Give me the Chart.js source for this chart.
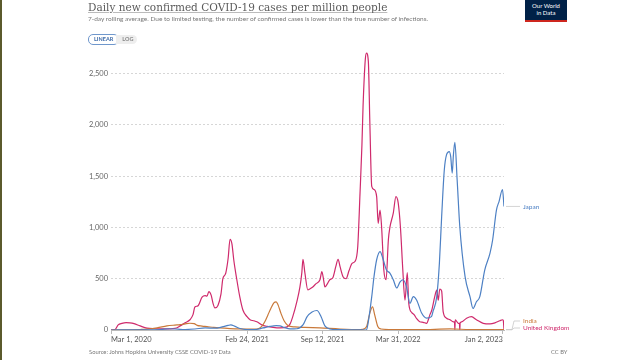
<!DOCTYPE html>
<html>
<head>
<meta charset="utf-8">
<script src="https://cdn.jsdelivr.net/npm/chart.js@4.4.0/dist/chart.umd.min.js"></script>
<style>
  html, body { margin: 0; padding: 0; background: #fff; }
  body { width: 640px; height: 360px; position: relative; overflow: hidden; font-family: Lato, sans-serif; }
  #edge { position: absolute; left: 0; top: 0; width: 2px; height: 360px; background: #5b5a2c; }
  #chart { position: absolute; left: 0; top: 0; }
  #title { position: absolute; left: 88px; top: 1px; font-family: "DejaVu Serif", serif; font-size: 10.5px; color: #5b5b5b;
           white-space: nowrap; text-decoration: underline; text-decoration-color: #bbb; }
  #subtitle { position: absolute; left: 88px; top: 15px; font-size: 6.5px; color: #777; white-space: nowrap; }
  #toggle { position: absolute; left: 88px; top: 34px; display: flex; font-size: 5.5px; font-weight: bold; }
  #toggle span { display: block; height: 9px; line-height: 9px; padding: 0 4px; }
  #toggle .on { border: 1px solid #6f97cc; border-radius: 5px; color: #3d6aa8; background: #fff; padding: 0 5px; }
  #toggle .off { background: #eee; color: #888; border-radius: 0 5px 5px 0; margin-left: -3px; padding-left: 6px; margin-top: 1px; }
  #logo { position: absolute; left: 525px; top: 0; width: 42px; height: 18px; background: #002147; border-bottom: 2px solid #ce261e;
          color: #fff; font-size: 6px; line-height: 7px; padding-top: 2px; box-sizing: content-box; text-align: center; }
  #source { position: absolute; left: 89px; top: 348px; font-size: 5.8px; color: #777; white-space: nowrap; }
  #cc { position: absolute; left: 551px; top: 348px; font-size: 5.8px; color: #777; }
</style>
</head>
<body>
<div id="edge"></div>
<canvas id="chart" width="640" height="360"></canvas>
<div id="title">Daily new confirmed COVID-19 cases per million people</div>
<div id="subtitle">7-day rolling average. Due to limited testing, the number of confirmed cases is lower than the true number of infections.</div>
<div id="toggle"><span class="on">LINEAR</span><span class="off">LOG</span></div>
<div id="logo">Our World<br>in Data</div>
<div id="source">Source: Johns Hopkins University CSSE COVID-19 Data</div>
<div id="cc">CC BY</div>
<script>
// x values are days since Mar 1, 2020
const xTickDays = [0, 360, 560, 760, 1037];
const xTickLabels = ['Mar 1, 2020', 'Feb 24, 2021', 'Sep 12, 2021', 'Mar 31, 2022', 'Jan 2, 2023'];
const yTicks = [0, 500, 1000, 1500, 2000, 2500];

const ukDays = [0, 11, 19, 29, 40, 50, 61, 77, 95, 116, 143, 169, 183, 196, 209, 217, 222, 230, 241, 249, 254, 259, 265, 270, 275,
  283, 291, 296, 302, 304, 310, 315, 320, 325, 333, 341, 349, 360, 368, 378, 386, 399, 413, 429, 447, 466, 474, 481, 492, 500,
  505, 508, 513, 521, 526, 534, 542, 553, 558, 563, 566, 574, 579, 587, 595, 601, 606, 614, 622, 630, 638, 646, 653, 659, 664,
  667, 673, 676, 681, 685, 690, 696, 703, 707, 712, 716, 722, 728, 734, 738, 747, 754, 760, 766, 772, 778, 784, 788, 796, 802,
  809, 817, 826, 835, 844, 849, 857, 862, 866, 870, 875, 879, 888, 897, 906, 909, 910, 911, 919, 922, 923, 924, 928, 941, 954,
  967, 985, 1003, 1016, 1029, 1036, 1038, 1040];
const ukCases = [0, 5, 50, 65, 72, 70, 62, 40, 18, 12, 10, 15, 40, 70, 100, 150, 225, 235, 320, 335, 330, 375, 340, 260, 215,
  240, 350, 500, 540, 560, 700, 885, 840, 680, 490, 320, 195, 130, 100, 90, 80, 50, 35, 25, 20, 30, 60, 130, 280, 420,
  560, 690, 560, 390, 400, 420, 450, 490, 570, 480, 420, 460, 490, 510, 620, 690, 620, 520, 500, 580, 650, 670, 815, 1335, 1800,
  2180, 2640, 2700, 2620, 2020, 1400, 1370, 1300, 1040, 1170, 1010, 585, 490, 880, 1000, 1140, 1300, 1240, 1000, 600, 290, 560, 260, 170, 150,
  110, 80, 75, 65, 150, 195, 330, 390, 290, 400, 380, 180, 115, 100, 80, 80, 0, 100, 65, 65, 0, 70, 80, 115, 130,
  100, 65, 60, 70, 90, 100, 95, 2];

const japanDays = [0, 77, 130, 156, 177, 196, 222, 249, 275, 294, 310, 317, 328, 341, 360, 381, 402, 421, 437, 447, 458, 474, 492,
  508, 519, 532, 545, 556, 566, 579, 606, 646, 676, 680, 690, 696, 703, 712, 720, 729, 738, 747, 756, 765, 773, 782, 791, 800,
  809, 822, 835, 848, 852, 862, 869, 875, 882, 888, 895, 899, 903, 906, 910, 916, 923, 937, 950, 958, 967, 976, 989, 1003,
  1010, 1020, 1027, 1036, 1040];
const japanCases = [0, 2, 5, 12, 8, 5, 10, 20, 18, 30, 45, 50, 35, 15, 5, 5, 20, 35, 42, 40, 25, 10, 12,
  50, 130, 175, 190, 130, 40, 10, 3, 2, 0, 60, 325, 520, 685, 765, 690, 585, 555, 490, 410, 470, 490, 420, 260, 325,
  290, 165, 115, 130, 180, 325, 650, 1105, 1560, 1710, 1740, 1690, 1530, 1700, 1830, 1465, 1010, 520, 325, 210, 275, 325, 585, 750,
  880, 1170, 1255, 1370, 1205];

const indiaDays = [0, 37, 77, 95, 122, 148, 169, 183, 196, 209, 220, 228, 241, 254, 272, 288, 315, 341, 368, 386, 399, 407, 415,
  423, 431, 437, 442, 450, 458, 468, 487, 513, 553, 606, 659, 672, 677, 685, 692, 698, 706, 714, 738, 817, 897, 950, 1040];
const indiaCases = [0, 2, 5, 8, 20, 40, 48, 52, 60, 66, 62, 45, 38, 33, 25, 20, 14, 10, 8, 10, 35, 80, 145,
  210, 265, 275, 245, 160, 90, 45, 30, 25, 20, 10, 5, 15, 40, 165, 225, 145, 35, 10, 5, 4, 10, 5, 4];

const seriesNames = ['Japan', 'India', 'United Kingdom'];
const seriesColors = ['#4d80c4', '#c9793a', '#cf2a6c'];

function toPoints(days, values) {
  return days.map((d, i) => ({ x: d, y: values[i] }));
}

// labels at the right end of each line
const endLabels = {
  id: 'endLabels',
  afterDatasetsDraw(chart) {
    const ctx = chart.ctx;
    const area = chart.chartArea;
    const items = chart.data.datasets.map((ds, i) => {
      const meta = chart.getDatasetMeta(i);
      const last = meta.data[meta.data.length - 1];
      return { name: ds.label, color: ds.borderColor, y: last.y, ly: last.y };
    });
    items.sort((a, b) => b.y - a.y);
    let prev = area.bottom - 2 + 7;
    items.forEach(it => {
      it.ly = Math.min(it.y, prev - 7);
      prev = it.ly;
    });
    ctx.save();
    ctx.font = '6.5px Lato';
    ctx.textBaseline = 'middle';
    items.forEach(it => {
      ctx.strokeStyle = '#c8c8c8';
      ctx.lineWidth = 0.8;
      ctx.beginPath();
      ctx.moveTo(area.right + 2, it.y);
      ctx.lineTo(area.right + 8, it.y);
      ctx.lineTo(area.right + 10, it.ly);
      ctx.lineTo(area.right + 16, it.ly);
      ctx.stroke();
      ctx.fillStyle = it.color;
      ctx.fillText(it.name, area.right + 19, it.ly);
    });
    ctx.restore();
  }
};

Chart.defaults.font.family = 'Lato';

new Chart(document.getElementById('chart').getContext('2d'), {
  type: 'line',
  data: {
    datasets: [
      { label: seriesNames[0], data: toPoints(japanDays, japanCases), borderColor: seriesColors[0] },
      { label: seriesNames[1], data: toPoints(indiaDays, indiaCases), borderColor: seriesColors[1] },
      { label: seriesNames[2], data: toPoints(ukDays, ukCases), borderColor: seriesColors[2] }
    ]
  },
  options: {
    responsive: false,
    animation: false,
    devicePixelRatio: 1,
    layout: { padding: { left: 81, right: 136, top: 48, bottom: 10 } },
    elements: {
      point: { radius: 0 },
      line: { borderWidth: 1.2, cubicInterpolationMode: 'monotone', fill: false }
    },
    plugins: {
      legend: { display: false },
      tooltip: { enabled: false }
    },
    scales: {
      x: {
        type: 'linear',
        min: 0,
        max: 1040,
        afterFit: s => { s.height = 20; },
        afterBuildTicks: s => { s.ticks = xTickDays.map(v => ({ value: v })); },
        border: { display: true, color: '#bbb' },
        grid: { drawOnChartArea: false, tickLength: 4, color: '#bbb' },
        ticks: {
          autoSkip: false,
          maxRotation: 0,
          align: 'inner',
          padding: 1,
          color: '#555',
          font: { size: 7.5 },
          callback: (v, i) => xTickLabels[i]
        }
      },
      y: {
        min: 0,
        max: 2750,
        afterFit: s => { s.width = 30; },
        afterBuildTicks: s => { s.ticks = yTicks.map(v => ({ value: v })); },
        border: { display: false, dash: [2, 2] },
        grid: {
          drawTicks: false,
          color: ctx => ctx.tick.value === 0 ? 'rgba(0,0,0,0)' : '#d6d6d6'
        },
        ticks: {
          padding: 3,
          color: '#666',
          font: { size: 7.5 },
          callback: v => v.toLocaleString('en-US')
        }
      }
    }
  },
  plugins: [endLabels]
});
</script>
</body>
</html>
